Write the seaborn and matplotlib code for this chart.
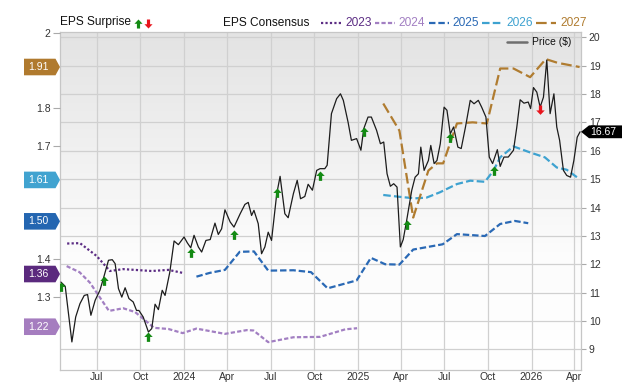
import numpy as np
import pandas as pd
import matplotlib
matplotlib.use("Agg")
import matplotlib.pyplot as plt
import matplotlib.dates as mdates
import matplotlib.transforms as mtransforms
from matplotlib.path import Path
from matplotlib.patches import Polygon
from matplotlib.lines import Line2D
from matplotlib.colors import LinearSegmentedColormap
import seaborn as sns

# ---- data ----
price_dates = [
    '2023-04-17', '2023-04-26', '2023-05-10', '2023-05-18', '2023-05-27', '2023-06-05', '2023-06-12',
    '2023-06-19', '2023-06-28', '2023-07-08', '2023-07-17', '2023-07-26', '2023-08-03', '2023-08-09',
    '2023-08-16', '2023-08-23', '2023-08-30', '2023-09-07', '2023-09-16', '2023-09-23', '2023-09-28',
    '2023-10-07', '2023-10-18', '2023-10-25', '2023-11-01', '2023-11-08', '2023-11-16', '2023-11-22',
    '2023-12-02', '2023-12-11', '2023-12-20', '2024-01-01', '2024-01-08', '2024-01-15', '2024-01-22',
    '2024-01-31', '2024-02-07', '2024-02-16', '2024-02-25', '2024-03-06', '2024-03-13', '2024-03-20',
    '2024-03-27', '2024-04-07', '2024-04-15', '2024-04-28', '2024-05-08', '2024-05-15', '2024-05-22',
    '2024-05-27', '2024-06-05', '2024-06-12', '2024-06-19', '2024-06-26', '2024-07-03', '2024-07-14',
    '2024-07-21', '2024-07-31', '2024-08-07', '2024-08-18', '2024-08-26', '2024-09-02', '2024-09-11',
    '2024-09-18', '2024-09-27', '2024-10-06', '2024-10-13', '2024-10-23', '2024-10-28', '2024-11-06',
    '2024-11-17', '2024-11-25', '2024-12-01', '2024-12-11', '2024-12-18', '2024-12-29', '2025-01-07',
    '2025-01-13', '2025-01-22', '2025-01-29', '2025-02-09', '2025-02-17', '2025-02-24', '2025-03-03',
    '2025-03-10', '2025-03-17', '2025-03-24', '2025-03-31', '2025-04-06', '2025-04-13', '2025-04-24',
    '2025-05-01', '2025-05-08', '2025-05-13', '2025-05-20', '2025-05-29', '2025-06-03', '2025-06-10',
    '2025-06-16', '2025-06-23', '2025-07-01', '2025-07-07', '2025-07-14', '2025-07-21', '2025-07-30',
    '2025-08-06', '2025-08-15', '2025-08-25', '2025-09-02', '2025-09-11', '2025-09-18', '2025-09-27',
    '2025-10-04', '2025-10-11', '2025-10-21', '2025-10-27', '2025-11-04', '2025-11-13', '2025-11-24',
    '2025-12-01', '2025-12-08', '2025-12-16', '2025-12-25', '2025-12-30', '2026-01-05', '2026-01-12',
    '2026-01-19', '2026-01-26', '2026-02-02', '2026-02-09', '2026-02-17', '2026-02-23', '2026-03-01',
    '2026-03-09', '2026-03-16', '2026-03-24', '2026-03-31', '2026-04-07', '2026-04-13',
]
price_values = [
    11.37, 11.22, 9.26, 10.14, 10.61, 10.90, 10.93,
    10.20, 10.73, 11.08, 11.60, 12.14, 12.16, 12.02,
    11.14, 10.84, 11.17, 10.79, 10.67, 10.37, 10.37,
    10.14, 9.61, 9.73, 10.59, 10.40, 11.08, 10.90,
    11.72, 12.82, 12.69, 12.96, 12.75, 12.58, 13.02,
    12.61, 12.43, 12.84, 12.87, 13.45, 13.05, 13.25,
    13.92, 13.49, 13.31, 13.78, 14.11, 14.18, 13.72,
    13.90, 13.43, 12.37, 12.61, 13.13, 12.84, 14.49,
    15.10, 13.78, 13.64, 14.49, 14.96, 14.31, 14.39,
    14.82, 14.61, 15.31, 15.37, 15.37, 15.49, 17.31,
    17.84, 18.01, 17.78, 17.01, 16.37, 16.43, 16.02,
    16.78, 17.19, 17.19, 16.72, 16.25, 16.31, 15.19,
    14.75, 14.84, 14.72, 12.61, 12.87, 13.52, 14.61,
    15.07, 15.19, 16.13, 15.31, 15.66, 16.19, 15.55,
    15.66, 16.25, 17.54, 17.43, 16.60, 16.84, 16.13,
    16.08, 16.84, 17.78, 17.66, 17.78, 17.54, 17.19,
    15.78, 15.55, 16.04, 15.45, 15.78, 15.78, 16.02,
    16.84, 17.80, 17.68, 17.72, 17.49, 18.23, 18.07,
    17.54, 17.89, 19.20, 17.31, 18.01, 16.84, 16.37,
    15.31, 15.13, 15.07, 15.66, 16.48, 16.67,
]

surprise_dates = ['2023-04-17', '2023-07-17', '2023-10-18', '2024-01-15', '2024-04-15', '2024-07-14',
                  '2024-10-13', '2025-01-13', '2025-04-13', '2025-07-14', '2025-10-13', '2026-01-19']
surprise_values = [11.37, 11.60, 9.61, 12.58, 13.20, 14.70, 15.30, 16.85, 13.55, 16.63, 15.45, 17.60]
surprise_beat = [True, True, True, True, True, True, True, True, True, True, True, False]

eps_dates = {
    '2023': ['2023-04-30', '2023-05-27', '2023-07-01', '2023-07-29', '2023-08-26', '2023-10-25',
             '2023-11-29', '2023-12-29'],
    '2024': ['2023-04-29', '2023-05-26', '2023-06-17', '2023-07-27', '2023-08-26', '2023-09-20',
             '2023-10-30', '2023-11-29', '2023-12-29', '2024-01-27', '2024-03-27', '2024-05-12',
             '2024-05-26', '2024-06-26', '2024-08-18', '2024-10-13', '2024-12-05', '2024-12-30'],
    '2025': ['2024-01-27', '2024-02-24', '2024-03-27', '2024-04-27', '2024-05-27', '2024-06-26',
             '2024-08-18', '2024-09-24', '2024-10-29', '2024-12-29', '2025-01-28', '2025-02-27',
             '2025-03-29', '2025-04-27', '2025-06-28', '2025-07-28', '2025-09-25', '2025-10-27',
             '2025-11-27', '2025-12-25'],
    '2026': ['2025-02-23', '2025-03-30', '2025-05-01', '2025-05-25', '2025-06-22', '2025-07-28',
             '2025-08-25', '2025-09-25', '2025-10-13', '2025-10-27', '2025-11-24', '2025-12-29',
             '2026-01-29', '2026-02-23', '2026-03-16', '2026-04-11'],
    '2027': ['2025-02-23', '2025-03-29', '2025-04-27', '2025-05-29', '2025-06-16', '2025-06-29',
             '2025-07-28', '2025-08-30', '2025-09-29', '2025-10-27', '2025-11-24', '2025-12-29',
             '2026-01-31', '2026-02-25', '2026-04-12'],
}
eps_values = {
    '2023': [1.441, 1.442, 1.408, 1.368, 1.373, 1.368, 1.371, 1.363],
    '2024': [1.381, 1.365, 1.337, 1.262, 1.269, 1.259, 1.217, 1.214, 1.203, 1.215, 1.201, 1.211,
             1.210, 1.179, 1.192, 1.193, 1.213, 1.216],
    '2025': [1.353, 1.363, 1.371, 1.419, 1.420, 1.369, 1.370, 1.365, 1.322, 1.343, 1.403, 1.386,
             1.385, 1.425, 1.439, 1.466, 1.461, 1.493, 1.501, 1.495],
    '2026': [1.570, 1.565, 1.561, 1.563, 1.577, 1.599, 1.608, 1.605, 1.635, 1.670, 1.699, 1.683,
             1.670, 1.643, 1.637, 1.613],
    '2027': [1.813, 1.741, 1.510, 1.635, 1.654, 1.654, 1.760, 1.763, 1.760, 1.906, 1.906, 1.883,
             1.931, 1.921, 1.910],
}
years = ['2023', '2024', '2025', '2026', '2027']
badge_values = [1.36, 1.22, 1.50, 1.61, 1.91]

tick_dates = ['2023-07-01', '2023-10-01', '2024-01-01', '2024-04-01', '2024-07-01', '2024-10-01',
              '2025-01-01', '2025-04-01', '2025-07-01', '2025-10-01', '2026-01-01', '2026-04-01']
tick_labels = ['Jul', 'Oct', '2024', 'Apr', 'Jul', 'Oct', '2025', 'Apr', 'Jul', 'Oct', '2026', 'Apr']
price_ticks = list(range(9, 21))
eps_ticks = [1.3, 1.4, 1.7, 1.8, 2.0]

# ---- style ----
year_colors = {'2023': '#5c2d84', '2024': '#a27fc2', '2025': '#2a69b5', '2026': '#3ea2d0', '2027': '#b07c30'}
badge_colors = {'2023': '#5b2a7e', '2024': '#a57dbf', '2025': '#2466b1', '2026': '#41a3d0', '2027': '#b07a2e'}
year_dashes = {'2023': (1, 1), '2024': (1.9, 1), '2025': (2.9, 1.3), '2026': (3.4, 1.45), '2027': (4.8, 1.9)}
green = '#138a13'
red = '#e8141c'

sns.set_theme(style='white')
plt.rcParams['font.family'] = ['Liberation Sans', 'DejaVu Sans']

W, H = 640, 382
fig = plt.figure(figsize=(W / 100, H / 100), dpi=100)
rect = [60 / W, 12 / H, 521 / W, 338 / H]


def fx(px):
    return px / W


def fy(py):
    return 1 - py / H


# gradient background
bg = fig.add_axes(rect, zorder=0)
grad = np.linspace(0, 1, 256).reshape(-1, 1)
cmap = LinearSegmentedColormap.from_list('bg', [(0, '#e3e3e3'), (0.65, '#fcfcfc'), (1, '#ffffff')])
bg.imshow(grad, aspect='auto', cmap=cmap, extent=[0, 1, 0, 1], origin='upper')
bg.set_axis_off()

ax = fig.add_axes(rect, zorder=1)      # grid + price scale
ax.patch.set_visible(False)
ax_e = ax.twinx()                      # EPS consensus
ax_p = ax.twinx()                      # price line + surprises
ax_e.set_zorder(2)
ax_p.set_zorder(3)

price_df = pd.DataFrame({'date': pd.to_datetime(price_dates), 'price': price_values})
eps_df = pd.concat([
    pd.DataFrame({'date': pd.to_datetime(eps_dates[y]), 'eps': eps_values[y], 'year': y}) for y in years
], ignore_index=True)

sns.lineplot(data=eps_df, x='date', y='eps', hue='year', style='year', hue_order=years,
             style_order=years, palette=year_colors, dashes=year_dashes, linewidth=1.6,
             estimator=None, legend=False, ax=ax_e)
sns.lineplot(data=price_df, x='date', y='price', color='#1c1c1c', linewidth=0.9,
             estimator=None, legend=False, ax=ax_p)

# surprise arrows (anchored at top, hanging below the price line)
up_arrow = Path([(0, 0), (-0.9, -0.95), (-0.35, -0.95), (-0.35, -2), (0.35, -2), (0.35, -0.95),
                 (0.9, -0.95), (0, 0)], closed=True)
down_arrow = Path([(-0.35, 0), (0.35, 0), (0.35, -1.05), (0.9, -1.05), (0, -2), (-0.9, -1.05),
                   (-0.35, -1.05), (-0.35, 0)], closed=True)
s_dates = mdates.date2num(pd.to_datetime(surprise_dates))
for d, v, beat in zip(s_dates, surprise_values, surprise_beat):
    ax_p.plot([d], [v], linestyle='none', marker=up_arrow if beat else down_arrow,
              markersize=13.5, color=green if beat else red, markeredgewidth=0)

# axes limits
xlim = mdates.date2num(pd.to_datetime(['2023-04-15', '2026-04-15']))
ax.set_xlim(*xlim)
ax.set_ylim(8.27, 20.19)
ax_p.set_ylim(8.27, 20.19)
ax_e.set_ylim(1.105, 2.003)

# grid axis
ax.set_xticks(mdates.date2num(pd.to_datetime(tick_dates)))
ax.set_xticklabels(tick_labels)
ax.set_yticks(price_ticks)
ax.set_yticklabels([str(t) for t in price_ticks])
ax.yaxis.tick_right()
ax.grid(True, color='#d0d0d0', linewidth=0.9)
ax.tick_params(axis='x', length=0, pad=1.5, labelsize=7.5, labelcolor='#333333')
ax.tick_params(axis='y', right=True, left=False, labelright=True, labelleft=False, length=3.6,
               width=0.8, color='#aaaaaa', pad=2, labelsize=7.5, labelcolor='#333333')
for s in ax.spines.values():
    s.set_color('#c6c6c6')
    s.set_linewidth(0.9)

ax_e.yaxis.tick_left()
ax_e.yaxis.set_label_position('left')
ax_e.set_yticks(eps_ticks)
ax_e.set_yticklabels(['%g' % t for t in eps_ticks])
ax_e.tick_params(axis='y', left=True, right=False, labelleft=True, labelright=False, length=4.8,
                 width=0.8, color='#aaaaaa', pad=1.9, labelsize=7.5, labelcolor='#333333')
ax_p.yaxis.set_visible(False)
for a in (ax_e, ax_p):
    a.set_xlabel('')
    a.set_ylabel('')
    for s in a.spines.values():
        s.set_visible(False)

# EPS badges on the left axis
left_shape = [(-0.36, -0.083), (-0.045, -0.083), (0, 0), (-0.045, 0.083), (-0.36, 0.083)]
for y, val in zip(years, badge_values):
    tr = fig.dpi_scale_trans + mtransforms.ScaledTranslation(0, val, ax_e.get_yaxis_transform())
    fig.add_artist(Polygon(left_shape, closed=True, transform=tr, facecolor=badge_colors[y],
                           edgecolor='none', zorder=10))
    fig.text(-0.215, 0, '%.2f' % val, transform=tr, ha='center', va='center', fontsize=7.5,
             color='white', zorder=11)

# last price badge on the right axis
right_shape = [(0, 0), (0.08, 0.064), (0.41, 0.064), (0.41, -0.064), (0.08, -0.064)]
tr = fig.dpi_scale_trans + mtransforms.ScaledTranslation(1, price_values[-1], ax_p.get_yaxis_transform())
fig.add_artist(Polygon(right_shape, closed=True, transform=tr, facecolor='black',
                       edgecolor='none', zorder=10))
fig.text(0.225, 0, '%.2f' % price_values[-1], transform=tr, ha='center', va='center',
         fontsize=7.5, color='white', zorder=11)

# top legend
ly = fy(22.5)
fig.text(fx(60), ly, 'EPS Surprise', fontsize=8.6, ha='left', va='center', color='#111111')
fig.add_artist(Line2D([fx(138)], [fy(18.5)], linestyle='none', marker=up_arrow, markersize=13,
                      color=green, markeredgewidth=0, transform=fig.transFigure))
fig.add_artist(Line2D([fx(148)], [fy(18.5)], linestyle='none', marker=down_arrow, markersize=13,
                      color=red, markeredgewidth=0, transform=fig.transFigure))
fig.text(fx(223), ly, 'EPS Consensus', fontsize=8.6, ha='left', va='center', color='#111111')
for i, y in enumerate(years):
    x0 = 321 + i * 53.75
    fig.add_artist(Line2D([fx(x0), fx(x0 + 20)], [ly, ly], color=year_colors[y], linewidth=1.6,
                          dashes=year_dashes[y], transform=fig.transFigure))
    fig.text(fx(x0 + 24), ly, y, fontsize=8.6, ha='left', va='center', color=year_colors[y])

# price legend inside plot
fig.add_artist(Line2D([fx(507), fx(527)], [fy(42), fy(42)], color='#6e6e6e', linewidth=1.8,
                      transform=fig.transFigure, zorder=10))
fig.text(fx(532), fy(42), 'Price ($)', fontsize=7.5, ha='left', va='center', color='#111111',
         zorder=10)

fig.savefig('out.png', dpi=100)
